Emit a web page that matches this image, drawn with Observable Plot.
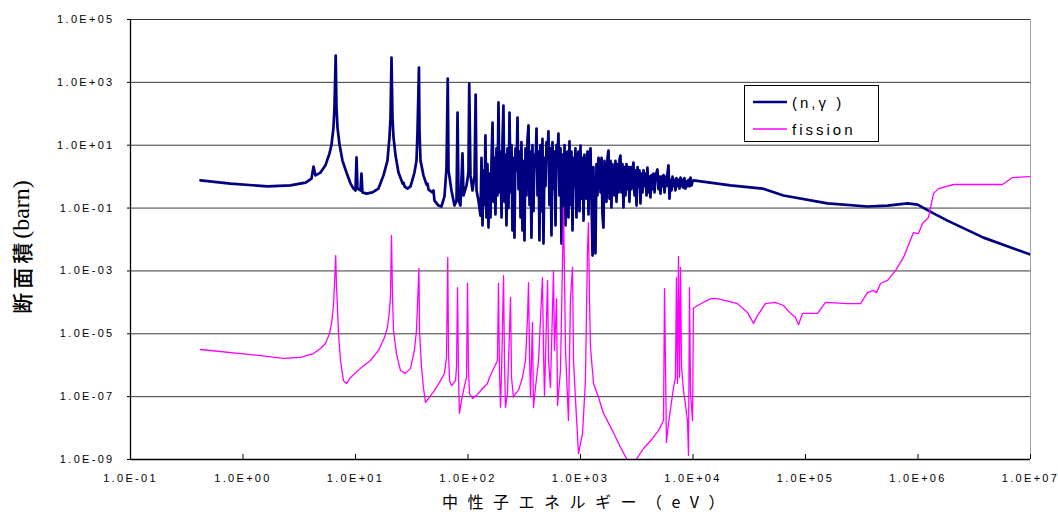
<!DOCTYPE html>
<html>
<head>
<meta charset="utf-8">
<script src="https://cdn.jsdelivr.net/npm/d3@7"></script>
<script src="https://cdn.jsdelivr.net/npm/@observablehq/plot@0.6"></script>
<style>
  html, body { margin: 0; padding: 0; background: #fff; }
  #chart { position: relative; width: 1058px; height: 512px; }
</style>
</head>
<body>
<div id="chart"></div>
<script>
// ---- Data (log10 of neutron energy in eV, log10 of cross section in barn) ----
const capLogE = [
  -0.378, -0.111, 0.218, 0.422, 0.556, 0.609, 0.627, 0.644, 0.689, 0.733, 0.769, 0.787, 0.804, 0.813, 0.824, 0.831, 0.84, 0.858, 0.884, 0.92,
  0.956, 0.982, 1.0, 1.009, 1.018, 1.044, 1.053, 1.062, 1.098, 1.151, 1.204, 1.249, 1.284, 1.302, 1.311, 1.32, 1.329, 1.338, 1.356, 1.382,
  1.409, 1.418, 1.427, 1.436, 1.462, 1.489, 1.524, 1.542, 1.551, 1.564, 1.569, 1.578, 1.604, 1.631, 1.64, 1.649, 1.684, 1.693, 1.702, 1.738,
  1.764, 1.791, 1.809, 1.82, 1.827, 1.853, 1.88, 1.898, 1.907, 1.916, 1.933, 1.951, 1.96, 1.987, 2.004, 2.011, 2.022, 2.04, 2.058, 2.068,
  2.076, 2.093,
  2.111, 2.120, 2.129, 2.138, 2.147, 2.155, 2.164, 2.173, 2.182, 2.191,
  2.200, 2.209, 2.218, 2.227, 2.235, 2.244, 2.253, 2.262, 2.271, 2.280,
  2.289, 2.298, 2.307, 2.315, 2.324, 2.333, 2.342, 2.351, 2.360, 2.369,
  2.378, 2.387, 2.395, 2.404, 2.413, 2.422, 2.431, 2.440, 2.449, 2.458,
  2.467, 2.475, 2.484, 2.493, 2.502, 2.511, 2.520, 2.529, 2.538, 2.547,
  2.555, 2.564, 2.573, 2.582, 2.591, 2.600, 2.609, 2.618, 2.627, 2.635,
  2.644, 2.653, 2.662, 2.671, 2.680, 2.689, 2.698, 2.707, 2.715, 2.724,
  2.733, 2.742, 2.751, 2.760, 2.769, 2.778, 2.787, 2.795, 2.804, 2.813,
  2.822, 2.831, 2.840, 2.849, 2.858, 2.867, 2.875, 2.884, 2.893, 2.902,
  2.911, 2.920, 2.929, 2.938, 2.947, 2.955, 2.964, 2.973, 2.982, 2.991,
  3.000, 3.009, 3.018, 3.027, 3.035, 3.044, 3.053, 3.062, 3.071, 3.080,
  3.089, 3.098, 3.107, 3.115, 3.124, 3.133, 3.142, 3.151, 3.160, 3.169,
  3.178, 3.187, 3.195, 3.204, 3.213, 3.222, 3.231, 3.240, 3.249, 3.258,
  3.267, 3.275, 3.284, 3.293, 3.302, 3.311, 3.320, 3.329, 3.338, 3.347,
  3.355, 3.364, 3.373, 3.382, 3.391, 3.400, 3.409, 3.418, 3.427, 3.435,
  3.444, 3.453, 3.462, 3.471, 3.480, 3.489, 3.498, 3.507, 3.515, 3.524,
  3.533, 3.542, 3.551, 3.560, 3.569, 3.578, 3.587, 3.595, 3.604, 3.613,
  3.622, 3.631, 3.640, 3.649, 3.658, 3.667, 3.675, 3.684, 3.693, 3.702,
  3.711, 3.720, 3.729, 3.738, 3.747, 3.755, 3.764, 3.773, 3.782, 3.791,
  3.800, 3.809, 3.818, 3.827, 3.835, 3.844, 3.853, 3.862, 3.871, 3.880,
  3.889, 3.898, 3.907, 3.915, 3.924, 3.933, 3.942, 3.951, 3.960, 3.969,
  3.978, 3.987, 3.995, 4.004,
  4.333, 4.618, 4.804, 5.196, 5.551, 5.729, 5.907, 5.996, 6.138, 6.262, 6.582, 7.0
];
const capLogS = [
  -0.12, -0.22, -0.31, -0.28, -0.19, -0.06, 0.32, 0.04, 0.13, 0.36, 0.74, 1.02, 1.56, 2.20, 3.855, 2.20, 1.56, 1.02, 0.51, 0.13,
  -0.22, -0.38, -0.44, 0.61, -0.38, -0.44, 0.10, -0.50, -0.54, -0.50, -0.38, 0.04, 0.51, 1.25, 1.85, 3.79, 1.85, 1.25, 0.67, 0.13,
  -0.12, -0.22, -0.19, -0.31, -0.38, -0.31, 0.13, 0.51, 1.40, 3.47, 1.40, 0.51, 0.04, -0.25, -0.22, -0.41, -0.50, -0.44, -0.76, -0.92,
  -0.95, -0.63, 0.29, 3.12, 0.20, -0.44, -0.92, -0.76, 2.04, -0.76, -0.92, 0.74, -0.60, -0.28, 0.13, 2.96, 0.04, -0.44, 0.04, 2.61,
  -0.44, -0.76,
  -1.24, 0.60, -1.55, 0.20, -0.90, 1.31, -1.30, 0.40, -1.62, 0.10,
  -1.30, 0.51, 1.72, -0.80, 0.60, -1.20, 0.90, -0.60, 2.36, -0.50,
  0.80, -1.30, 1.20, 2.26, -0.80, 0.70, -1.55, 0.90, -1.00, 2.04,
  -0.50, 1.00, -1.71, 0.60, -1.94, 0.90, 0.20, 1.88, -0.40, 0.80,
  -1.30, 1.10, -1.71, 0.50, -2.03, 0.90, -0.60, 1.20, 1.63, -0.90,
  0.80, -1.94, 1.00, -1.10, 0.70, 0.30, 1.53, -0.60, 0.80, -2.03,
  1.00, -1.10, 1.20, -2.13, 0.60, -0.30, 1.10, 0.70, 1.44, -0.90,
  0.90, -1.87, 1.10, -0.40, 0.80, -1.55, 1.00, 0.60, 1.37, -0.60,
  0.90, -2.13, 0.70, -1.00, 1.00, -1.55, 0.50, 0.80, -1.30, 1.12,
  -0.90, 0.80, -1.71, 0.60, -0.30, 0.90, -1.30, 0.50, 0.80, -1.10,
  0.99, -0.70, 0.60, -1.40, 0.70, 0.20, -0.70, 0.80, -1.20, 0.67,
  0.90, -0.80, -2.51, 0.30, -1.71, -2.44, 0.40, -0.60, 0.60, 0.40,
  -0.50, 0.60, -1.20, -1.62, 0.50, 0.20, -0.80, 0.60, 0.83, -0.70,
  0.50, -0.98, 0.40, 0.10, -0.60, 0.50, -0.80, 0.40, -0.50, 0.55,
  0.67, -0.50, 0.40, -0.98, 0.30, -0.60, 0.40, -0.40, 0.30, -0.80,
  0.30, -0.40, 0.20, 0.45, -0.60, 0.20, -0.92, 0.30, -0.30, 0.20,
  -0.85, 0.10, -0.50, 0.20, -0.30, 0.10, -0.60, 0.29, -0.50, 0.00,
  -0.66, 0.05, -0.40, 0.10, -0.50, 0.00, 0.13, 0.23, -0.40, 0.00,
  -0.54, 0.00, -0.30, 0.05, -0.50, 0.00, -0.30, 0.10, 0.36, -0.70,
  -0.10, -0.44, 0.00, -0.30, -0.10, -0.44, -0.05, -0.30, -0.10, -0.38,
  -0.03, -0.30, -0.10, -0.35, -0.05, -0.38, -0.15, -0.30, -0.10, -0.31,
  -0.03, -0.28, -0.15, -0.12,
  -0.28, -0.38, -0.60, -0.85, -0.95, -0.92, -0.85, -0.89, -1.17, -1.40, -1.94, -2.48
];
const fisLogE = [
  -0.378, 0.067, 0.36, 0.511, 0.627, 0.689, 0.733, 0.769, 0.787, 0.804, 0.813, 0.824, 0.831, 0.84, 0.849, 0.867, 0.893, 0.92, 0.956, 1.044,
  1.133, 1.204, 1.258, 1.284, 1.302, 1.311, 1.32, 1.329, 1.338, 1.364, 1.4, 1.444, 1.489, 1.524, 1.542, 1.564, 1.569, 1.587, 1.604, 1.622,
  1.649, 1.702, 1.756, 1.791, 1.809, 1.82, 1.827, 1.836, 1.853, 1.871, 1.889, 1.898, 1.907, 1.916, 1.924, 1.942, 1.96, 1.987, 1.996, 2.004,
  2.013, 2.04, 2.076, 2.129, 2.173, 2.191, 2.262, 2.271, 2.28, 2.289, 2.298, 2.316, 2.324, 2.333, 2.351, 2.369, 2.378, 2.387, 2.404, 2.422,
  2.449, 2.484, 2.511, 2.529, 2.538, 2.547, 2.556, 2.573, 2.582, 2.6, 2.627, 2.662, 2.671, 2.68, 2.707, 2.716, 2.733, 2.76, 2.769, 2.787,
  2.796, 2.822, 2.849, 2.867, 2.893, 2.911, 2.929, 2.938, 2.956, 2.982, 3.018, 3.044, 3.062, 3.071, 3.08, 3.089, 3.116, 3.16, 3.204, 3.284,
  3.356, 3.418, 3.489, 3.56, 3.64, 3.693, 3.738, 3.747, 3.764, 3.782, 3.827, 3.844, 3.853, 3.862, 3.871, 3.88, 3.889, 3.898, 3.916, 3.951,
  3.96, 3.969, 3.978, 3.996, 4.004, 4.04, 4.156, 4.218, 4.396, 4.484, 4.538, 4.573, 4.644, 4.733, 4.804, 4.867, 4.911, 4.938, 4.973, 5.107,
  5.178, 5.373, 5.489, 5.551, 5.604, 5.631, 5.667, 5.729, 5.8, 5.871, 5.96, 6.004, 6.04, 6.093, 6.138, 6.182, 6.316, 6.44, 6.751, 6.84, 7.0
];
const fisLogS = [
  -5.50, -5.66, -5.78, -5.75, -5.63, -5.47, -5.31, -4.99, -4.67, -4.10, -3.47, -2.51, -3.47, -4.17, -4.99, -5.85, -6.49, -6.58, -6.39, -6.10,
  -5.85, -5.53, -5.12, -4.80, -4.26, -3.84, -1.87, -3.84, -4.90, -5.63, -6.17, -6.26, -6.10, -5.53, -4.90, -2.92, -4.90, -6.07, -6.71, -7.18,
  -7.06, -6.80, -6.49, -6.26, -5.75, -2.57, -5.63, -6.49, -6.65, -6.58, -6.49, -6.07, -3.53, -6.39, -7.53, -7.12, -6.80, -6.39, -3.40, -6.07,
  -6.90, -7.06, -6.96, -6.74, -6.58, -6.39, -5.85, -3.40, -6.17, -7.34, -6.26, -3.15, -5.85, -7.34, -6.90, -4.90, -3.84, -6.39, -7.02, -6.90,
  -6.80, -6.39, -5.85, -4.48, -3.37, -5.63, -7.02, -4.64, -7.34, -6.71, -5.85, -3.21, -5.53, -6.96, -3.30, -5.85, -6.71, -2.99, -5.53, -3.88,
  -7.28, -6.17, -0.98, -5.53, -7.76, -3.88, -2.89, -5.85, -7.12, -8.81, -8.17, -6.49, -2.35, -1.46, -3.94, -5.44, -6.58, -7.02, -7.53, -8.08,
  -8.62, -9.03, -9.03, -8.65, -8.33, -8.08, -7.76, -3.56, -8.46, -7.85, -6.71, -6.39, -3.21, -6.58, -2.54, -6.39, -2.89, -6.07, -6.80, -7.76,
  -8.87, -3.53, -6.90, -7.76, -4.19, -4.10, -3.88, -3.88, -4.04, -4.32, -4.67, -4.42, -4.04, -4.00, -4.10, -4.35, -4.48, -4.71, -4.35, -4.35,
  -4.00, -4.04, -4.04, -3.69, -3.62, -3.69, -3.40, -3.30, -2.99, -2.57, -1.78, -1.81, -1.49, -1.30, -0.54, -0.38, -0.25, -0.25, -0.25, -0.03, 0.00
];
const seriesNames = ["(n,γ )", "fission"];
const seriesColors = ["#000080", "#ff00ff"];
const xTickValues = [1e-1, 1e0, 1e1, 1e2, 1e3, 1e4, 1e5, 1e6, 1e7];
const xTickLabels = ["1.0E-01", "1.0E+00", "1.0E+01", "1.0E+02", "1.0E+03", "1.0E+04", "1.0E+05", "1.0E+06", "1.0E+07"];
const yTickValues = [1e-9, 1e-7, 1e-5, 1e-3, 1e-1, 1e1, 1e3, 1e5];
const yTickLabels = ["1.0E-09", "1.0E-07", "1.0E-05", "1.0E-03", "1.0E-01", "1.0E+01", "1.0E+03", "1.0E+05"];
const xTitle = "中性子エネルギー（eV）";
const yTitleMain = "断面積";
const yTitleUnit = "(barn)";

// ---- Build tables ----
const capture = capLogE.map((e, i) => ({E: 10 ** e, s: 10 ** capLogS[i]}));
const fission = fisLogE.map((e, i) => ({E: 10 ** e, s: 10 ** fisLogS[i]}));
const xLab = new Map(xTickValues.map((v, i) => [v, xTickLabels[i]]));
const yLab = new Map(yTickValues.map((v, i) => [v, yTickLabels[i]]));

const chart = Plot.plot({
  width: 1058,
  height: 512,
  marginLeft: 130,
  marginRight: 28,
  marginTop: 19,
  marginBottom: 53,
  x: {type: "log", domain: [1e-1, 1e7]},
  y: {type: "log", domain: [1e-9, 1e5]},
  style: {fontFamily: "'Liberation Sans', Arial, sans-serif", fontSize: "11px", color: "#000", background: "#fff", letterSpacing: "2.3px"},
  marks: [
    Plot.ruleY(yTickValues.slice(1), {stroke: "#3a3a3a", strokeWidth: 1}),
    Plot.ruleX([1e7], {stroke: "#a0a0a0", strokeWidth: 1}),
    Plot.line(capture, {x: "E", y: "s", stroke: seriesColors[0], strokeWidth: 2.7, strokeLinejoin: "round", clip: true}),
    Plot.line(fission, {x: "E", y: "s", stroke: seriesColors[1], strokeWidth: 1.3, clip: true}),
    Plot.ruleX([1e-1], {stroke: "#000", strokeWidth: 1.3}),
    Plot.ruleY([1e-9], {stroke: "#000", strokeWidth: 1.3}),
    Plot.tickX(xTickValues, {stroke: "#000", insetTop: 435}),
    Plot.axisX(xTickValues, {tickSize: 0, tickPadding: 15, tickFormat: d => xLab.get(d), label: null}),
    Plot.axisY(yTickValues, {tickSize: 3, tickPadding: 13, tickFormat: d => yLab.get(d), label: null})
  ]
});

document.getElementById("chart").appendChild(chart);

// ---- Titles and legend ----
const svg = d3.select(chart);
const yt = svg.append("text")
  .attr("transform", "translate(21,247) rotate(-90)")
  .attr("text-anchor", "middle")
  .attr("dominant-baseline", "central")
  .style("letter-spacing", "0px")
  .attr("fill", "#000");
yt.append("tspan").text(yTitleMain)
  .style("font-family", "'Noto Sans CJK JP', sans-serif").style("font-size", "21px").style("font-weight", "500").style("letter-spacing", "4px");
yt.append("tspan").text(yTitleUnit)
  .style("font-family", "'Liberation Serif', 'DejaVu Serif', serif").style("font-size", "24px").style("letter-spacing", "0px");

svg.append("text")
  .attr("x", 588).attr("y", 501)
  .attr("text-anchor", "middle")
  .attr("dominant-baseline", "central")
  .style("font-family", "'Noto Sans CJK JP', sans-serif")
  .style("font-size", "16px")
  .style("letter-spacing", "9.5px")
  .attr("fill", "#000")
  .text(xTitle);

const lg = svg.append("g").attr("text-anchor", "start");
lg.append("rect").attr("x", 744.5).attr("y", 85.5).attr("width", 134).attr("height", 56)
  .attr("fill", "#fff").attr("stroke", "#000").attr("stroke-width", 1);
seriesNames.forEach((name, i) => {
  const yy = 102 + i * 27;
  lg.append("line").attr("x1", 753).attr("x2", 787).attr("y1", yy).attr("y2", yy)
    .attr("stroke", seriesColors[i]).attr("stroke-width", i === 0 ? 2.7 : 1.3);
  lg.append("text").attr("x", 792).attr("y", yy).attr("dominant-baseline", "central")
    .attr("text-anchor", "start")
    .style("font-family", "'Liberation Sans', Arial, sans-serif").style("font-size", "15px").style("letter-spacing", "3px")
    .attr("fill", "#000").text(name);
});
</script>
</body>
</html>
